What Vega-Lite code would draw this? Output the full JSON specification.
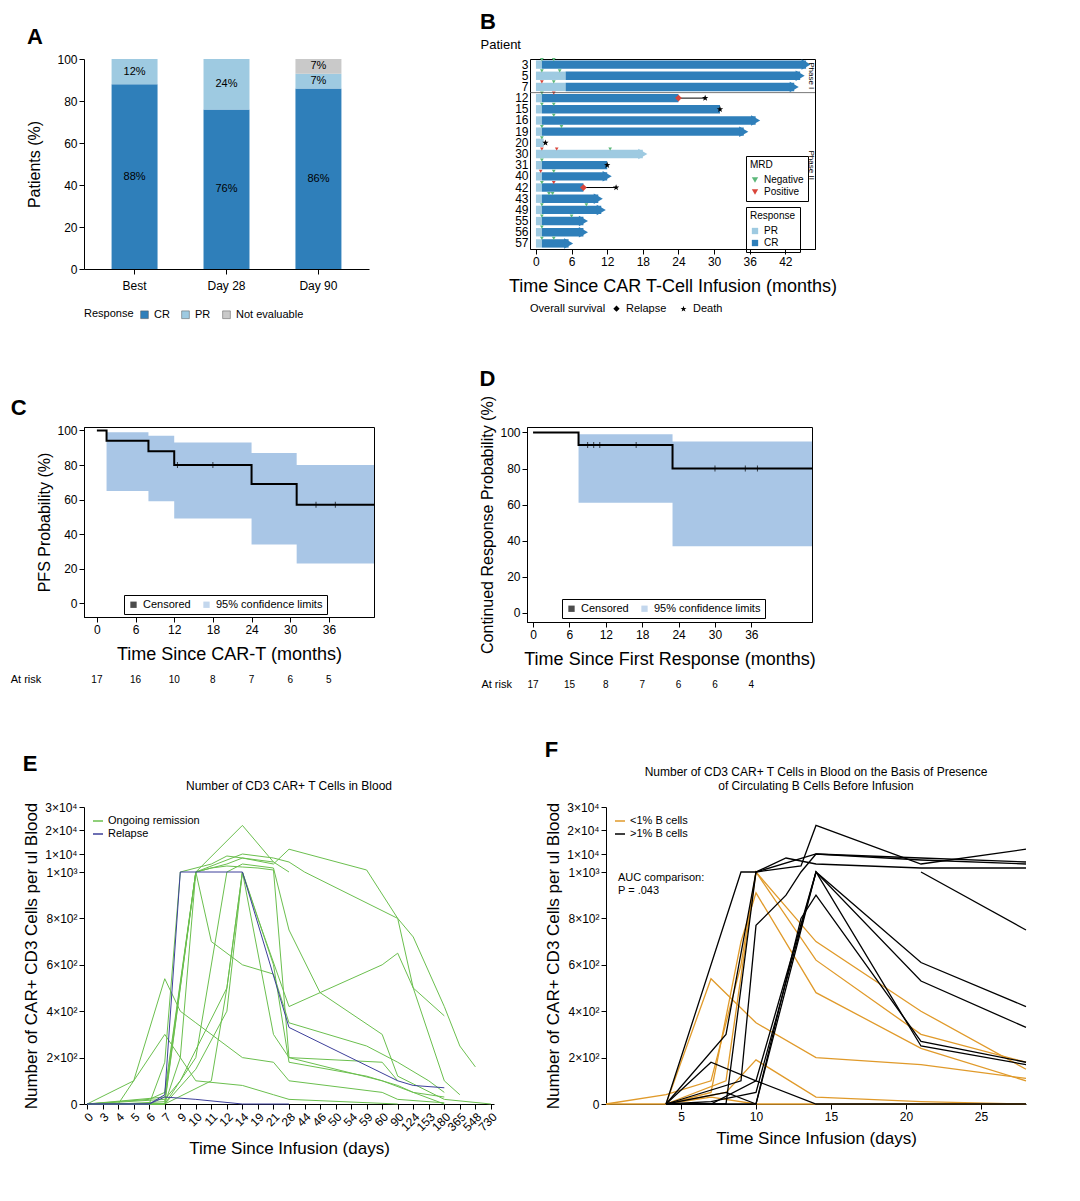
{
  "$schema": "https://vega.github.io/schema/vega-lite/v6.json",
  "background": "white",
  "padding": {"left": 10, "top": 10, "right": 5, "bottom": 5},
  "spacing": 48,
  "resolve": {"scale": {"color": "independent", "fill": "independent", "shape": "independent", "x": "independent", "y": "independent"}, "legend": {"color": "independent", "fill": "independent", "shape": "independent"}},
  "config": {
    "font": "Liberation Sans",
    "view": {"stroke": null},
    "axis": {"grid": false, "labelOverlap": false, "domainColor": "black", "tickColor": "black", "labelColor": "black", "titleColor": "black", "labelFontSize": 12, "titleFontSize": 16, "titleFontWeight": "normal"},
    "legend": {"labelFontSize": 11, "titleFontSize": 11, "titleFontWeight": "normal"},
    "title": {"fontSize": 13, "fontWeight": "normal"},
    "concat": {"spacing": 60}
  },
  "datasets": {
    "resp": [
      {"t": "Best", "r": "CR", "v": 88, "o": 1, "mid": 44, "lab": "88%"},
      {"t": "Best", "r": "PR", "v": 12, "o": 2, "mid": 94, "lab": "12%"},
      {"t": "Day 28", "r": "CR", "v": 76, "o": 1, "mid": 38, "lab": "76%"},
      {"t": "Day 28", "r": "PR", "v": 24, "o": 2, "mid": 88, "lab": "24%"},
      {"t": "Day 90", "r": "CR", "v": 86, "o": 1, "mid": 43, "lab": "86%"},
      {"t": "Day 90", "r": "PR", "v": 7, "o": 2, "mid": 89.5, "lab": "7%"},
      {"t": "Day 90", "r": "Not evaluable", "v": 7, "o": 3, "mid": 96.5, "lab": "7%"}
    ],
    "bars": [
      {"p": "3", "s": 0, "e": 1, "r": "PR"}, {"p": "3", "s": 1, "e": 45.5, "r": "CR"},
      {"p": "5", "s": 0, "e": 5, "r": "PR"}, {"p": "5", "s": 5, "e": 44.5, "r": "CR"},
      {"p": "7", "s": 0, "e": 5, "r": "PR"}, {"p": "7", "s": 5, "e": 43.5, "r": "CR"},
      {"p": "12", "s": 0, "e": 1, "r": "PR"}, {"p": "12", "s": 1, "e": 24, "r": "CR"},
      {"p": "15", "s": 0, "e": 1, "r": "PR"}, {"p": "15", "s": 1, "e": 31, "r": "CR"},
      {"p": "16", "s": 0, "e": 1, "r": "PR"}, {"p": "16", "s": 1, "e": 37, "r": "CR"},
      {"p": "19", "s": 0, "e": 1, "r": "PR"}, {"p": "19", "s": 1, "e": 35, "r": "CR"},
      {"p": "20", "s": 0, "e": 1.3, "r": "PR"},
      {"p": "30", "s": 0, "e": 18, "r": "PR"},
      {"p": "31", "s": 0, "e": 1, "r": "PR"}, {"p": "31", "s": 1, "e": 12, "r": "CR"},
      {"p": "40", "s": 0, "e": 1, "r": "PR"}, {"p": "40", "s": 1, "e": 12, "r": "CR"},
      {"p": "42", "s": 0, "e": 1, "r": "PR"}, {"p": "42", "s": 1, "e": 8, "r": "CR"},
      {"p": "43", "s": 0, "e": 1, "r": "PR"}, {"p": "43", "s": 1, "e": 10.5, "r": "CR"},
      {"p": "49", "s": 0, "e": 1, "r": "PR"}, {"p": "49", "s": 1, "e": 11, "r": "CR"},
      {"p": "55", "s": 0, "e": 1, "r": "PR"}, {"p": "55", "s": 1, "e": 8, "r": "CR"},
      {"p": "56", "s": 0, "e": 1, "r": "PR"}, {"p": "56", "s": 1, "e": 8, "r": "CR"},
      {"p": "57", "s": 0, "e": 1, "r": "PR"}, {"p": "57", "s": 1, "e": 5.5, "r": "CR"}
    ],
    "arrows": [
      {"p": "3", "x": 45.5, "r": "CR"}, {"p": "5", "x": 44.5, "r": "CR"}, {"p": "7", "x": 43.5, "r": "CR"},
      {"p": "16", "x": 37, "r": "CR"}, {"p": "19", "x": 35, "r": "CR"}, {"p": "30", "x": 18, "r": "PR"},
      {"p": "40", "x": 12, "r": "CR"}, {"p": "43", "x": 10.5, "r": "CR"}, {"p": "49", "x": 11, "r": "CR"},
      {"p": "55", "x": 8, "r": "CR"}, {"p": "56", "x": 8, "r": "CR"}, {"p": "57", "x": 5.5, "r": "CR"}
    ],
    "mrd": [
      {"p": "3", "x": 1, "m": "Negative"}, {"p": "3", "x": 3, "m": "Negative"},
      {"p": "5", "x": 1, "m": "Negative"}, {"p": "5", "x": 4, "m": "Negative"},
      {"p": "7", "x": 1, "m": "Positive"}, {"p": "7", "x": 3, "m": "Negative"},
      {"p": "12", "x": 1, "m": "Negative"}, {"p": "12", "x": 3, "m": "Positive"},
      {"p": "15", "x": 1, "m": "Negative"}, {"p": "15", "x": 3, "m": "Negative"},
      {"p": "16", "x": 3, "m": "Negative"},
      {"p": "19", "x": 1, "m": "Negative"}, {"p": "19", "x": 4.3, "m": "Negative"},
      {"p": "20", "x": 1, "m": "Negative"},
      {"p": "30", "x": 1, "m": "Positive"}, {"p": "30", "x": 3.5, "m": "Positive"}, {"p": "30", "x": 12.5, "m": "Negative"},
      {"p": "31", "x": 1, "m": "Negative"},
      {"p": "40", "x": 0.8, "m": "Positive"}, {"p": "40", "x": 3, "m": "Negative"},
      {"p": "42", "x": 1, "m": "Negative"}, {"p": "42", "x": 3, "m": "Positive"},
      {"p": "43", "x": 2.2, "m": "Negative"}, {"p": "43", "x": 2.8, "m": "Negative"},
      {"p": "49", "x": 1, "m": "Negative"}, {"p": "49", "x": 8.5, "m": "Negative"},
      {"p": "55", "x": 1, "m": "Negative"}, {"p": "55", "x": 6, "m": "Negative"},
      {"p": "56", "x": 1, "m": "Negative"},
      {"p": "57", "x": 1, "m": "Negative"}, {"p": "57", "x": 3, "m": "Negative"}
    ],
    "surv": [
      {"p": "12", "s": 24, "e": 28.5}, {"p": "42", "s": 8, "e": 13.5}
    ],
    "events": [
      {"p": "12", "x": 24, "ev": "Relapse"}, {"p": "12", "x": 28.5, "ev": "Death"},
      {"p": "15", "x": 31, "ev": "Death"}, {"p": "20", "x": 1.6, "ev": "Death"},
      {"p": "31", "x": 12, "ev": "Death"}, {"p": "42", "x": 8, "ev": "Relapse"},
      {"p": "42", "x": 13.5, "ev": "Death"}
    ],
    "phase": [
      {"p": "5", "x": 46.3, "lab": "Phase I"}, {"p": "31", "x": 46.3, "lab": "Phase II"}
    ],
    "kmC": [
      {"t": 0, "s": 100}, {"t": 1.5, "s": 94}, {"t": 8, "s": 88}, {"t": 12, "s": 80},
      {"t": 24, "s": 69}, {"t": 31, "s": 57}, {"t": 43, "s": 57}
    ],
    "bandC": [
      {"t": 1.5, "lo": 65, "hi": 99, "k": "95% confidence limits"}, {"t": 8, "lo": 59, "hi": 97, "k": "95% confidence limits"},
      {"t": 12, "lo": 49, "hi": 93, "k": "95% confidence limits"}, {"t": 24, "lo": 34, "hi": 87, "k": "95% confidence limits"},
      {"t": 31, "lo": 23, "hi": 80, "k": "95% confidence limits"}, {"t": 43, "lo": 23, "hi": 80, "k": "95% confidence limits"}
    ],
    "censC": [
      {"t": 12.5, "s": 80, "k": "Censored"}, {"t": 18, "s": 80, "k": "Censored"},
      {"t": 34, "s": 57, "k": "Censored"}, {"t": 37, "s": 57, "k": "Censored"}
    ],
    "riskC": [
      {"t": 0, "n": "17"}, {"t": 6, "n": "16"}, {"t": 12, "n": "10"}, {"t": 18, "n": "8"},
      {"t": 24, "n": "7"}, {"t": 30, "n": "6"}, {"t": 36, "n": "5"}
    ],
    "kmD": [
      {"t": 0, "s": 100}, {"t": 7.5, "s": 93}, {"t": 23, "s": 80}, {"t": 46, "s": 80}
    ],
    "bandD": [
      {"t": 7.5, "lo": 61, "hi": 99, "k": "95% confidence limits"}, {"t": 23, "lo": 37, "hi": 95, "k": "95% confidence limits"},
      {"t": 46, "lo": 37, "hi": 95, "k": "95% confidence limits"}
    ],
    "censD": [
      {"t": 9, "s": 93, "k": "Censored"}, {"t": 10, "s": 93, "k": "Censored"}, {"t": 11, "s": 93, "k": "Censored"},
      {"t": 17, "s": 93, "k": "Censored"}, {"t": 30, "s": 80, "k": "Censored"}, {"t": 35, "s": 80, "k": "Censored"},
      {"t": 37, "s": 80, "k": "Censored"}
    ],
    "riskD": [
      {"t": 0, "n": "17"}, {"t": 6, "n": "15"}, {"t": 12, "n": "8"}, {"t": 18, "n": "7"},
      {"t": 24, "n": "6"}, {"t": 30, "n": "6"}, {"t": 36, "n": "4"}
    ],
    "cellsE": [
      {"id": "g1", "g": "Ongoing remission", "d": 0, "v": 0}, {"id": "g1", "g": "Ongoing remission", "d": 4, "v": 0}, {"id": "g1", "g": "Ongoing remission", "d": 7, "v": 10}, {"id": "g1", "g": "Ongoing remission", "d": 10, "v": 1000}, {"id": "g1", "g": "Ongoing remission", "d": 14, "v": 22000}, {"id": "g1", "g": "Ongoing remission", "d": 21, "v": 6000}, {"id": "g1", "g": "Ongoing remission", "d": 28, "v": 1000},
      {"id": "g2", "g": "Ongoing remission", "d": 0, "v": 0}, {"id": "g2", "g": "Ongoing remission", "d": 7, "v": 0}, {"id": "g2", "g": "Ongoing remission", "d": 9, "v": 200}, {"id": "g2", "g": "Ongoing remission", "d": 10, "v": 1000}, {"id": "g2", "g": "Ongoing remission", "d": 12, "v": 5000}, {"id": "g2", "g": "Ongoing remission", "d": 14, "v": 8000}, {"id": "g2", "g": "Ongoing remission", "d": 21, "v": 5000}, {"id": "g2", "g": "Ongoing remission", "d": 28, "v": 12000}, {"id": "g2", "g": "Ongoing remission", "d": 59, "v": 2000}, {"id": "g2", "g": "Ongoing remission", "d": 90, "v": 800}, {"id": "g2", "g": "Ongoing remission", "d": 124, "v": 720}, {"id": "g2", "g": "Ongoing remission", "d": 180, "v": 420}, {"id": "g2", "g": "Ongoing remission", "d": 365, "v": 250}, {"id": "g2", "g": "Ongoing remission", "d": 548, "v": 160},
      {"id": "g3", "g": "Ongoing remission", "d": 0, "v": 0}, {"id": "g3", "g": "Ongoing remission", "d": 5, "v": 100}, {"id": "g3", "g": "Ongoing remission", "d": 7, "v": 540}, {"id": "g3", "g": "Ongoing remission", "d": 9, "v": 400}, {"id": "g3", "g": "Ongoing remission", "d": 10, "v": 350}, {"id": "g3", "g": "Ongoing remission", "d": 14, "v": 200}, {"id": "g3", "g": "Ongoing remission", "d": 21, "v": 180}, {"id": "g3", "g": "Ongoing remission", "d": 28, "v": 100}, {"id": "g3", "g": "Ongoing remission", "d": 60, "v": 50}, {"id": "g3", "g": "Ongoing remission", "d": 90, "v": 20}, {"id": "g3", "g": "Ongoing remission", "d": 180, "v": 5},
      {"id": "g4", "g": "Ongoing remission", "d": 0, "v": 0}, {"id": "g4", "g": "Ongoing remission", "d": 6, "v": 20}, {"id": "g4", "g": "Ongoing remission", "d": 7, "v": 50}, {"id": "g4", "g": "Ongoing remission", "d": 10, "v": 1000}, {"id": "g4", "g": "Ongoing remission", "d": 11, "v": 700}, {"id": "g4", "g": "Ongoing remission", "d": 14, "v": 600}, {"id": "g4", "g": "Ongoing remission", "d": 21, "v": 560}, {"id": "g4", "g": "Ongoing remission", "d": 28, "v": 350}, {"id": "g4", "g": "Ongoing remission", "d": 59, "v": 250}, {"id": "g4", "g": "Ongoing remission", "d": 90, "v": 180}, {"id": "g4", "g": "Ongoing remission", "d": 153, "v": 100}, {"id": "g4", "g": "Ongoing remission", "d": 180, "v": 50},
      {"id": "g5", "g": "Ongoing remission", "d": 0, "v": 0}, {"id": "g5", "g": "Ongoing remission", "d": 7, "v": 20}, {"id": "g5", "g": "Ongoing remission", "d": 9, "v": 100}, {"id": "g5", "g": "Ongoing remission", "d": 12, "v": 500}, {"id": "g5", "g": "Ongoing remission", "d": 14, "v": 1000}, {"id": "g5", "g": "Ongoing remission", "d": 19, "v": 800}, {"id": "g5", "g": "Ongoing remission", "d": 28, "v": 420}, {"id": "g5", "g": "Ongoing remission", "d": 60, "v": 600}, {"id": "g5", "g": "Ongoing remission", "d": 90, "v": 650}, {"id": "g5", "g": "Ongoing remission", "d": 124, "v": 500}, {"id": "g5", "g": "Ongoing remission", "d": 180, "v": 380},
      {"id": "g6", "g": "Ongoing remission", "d": 0, "v": 0}, {"id": "g6", "g": "Ongoing remission", "d": 7, "v": 0}, {"id": "g6", "g": "Ongoing remission", "d": 10, "v": 200}, {"id": "g6", "g": "Ongoing remission", "d": 12, "v": 1000}, {"id": "g6", "g": "Ongoing remission", "d": 14, "v": 5000}, {"id": "g6", "g": "Ongoing remission", "d": 21, "v": 3000}, {"id": "g6", "g": "Ongoing remission", "d": 28, "v": 750}, {"id": "g6", "g": "Ongoing remission", "d": 46, "v": 480}, {"id": "g6", "g": "Ongoing remission", "d": 60, "v": 300}, {"id": "g6", "g": "Ongoing remission", "d": 90, "v": 120}, {"id": "g6", "g": "Ongoing remission", "d": 180, "v": 20}, {"id": "g6", "g": "Ongoing remission", "d": 730, "v": 0},
      {"id": "g7", "g": "Ongoing remission", "d": 0, "v": 0}, {"id": "g7", "g": "Ongoing remission", "d": 7, "v": 30}, {"id": "g7", "g": "Ongoing remission", "d": 10, "v": 1000}, {"id": "g7", "g": "Ongoing remission", "d": 11, "v": 3000}, {"id": "g7", "g": "Ongoing remission", "d": 12, "v": 4000}, {"id": "g7", "g": "Ongoing remission", "d": 14, "v": 3500}, {"id": "g7", "g": "Ongoing remission", "d": 19, "v": 3000}, {"id": "g7", "g": "Ongoing remission", "d": 21, "v": 2000}, {"id": "g7", "g": "Ongoing remission", "d": 28, "v": 200}, {"id": "g7", "g": "Ongoing remission", "d": 60, "v": 180}, {"id": "g7", "g": "Ongoing remission", "d": 90, "v": 100},
      {"id": "g8", "g": "Ongoing remission", "d": 0, "v": 0}, {"id": "g8", "g": "Ongoing remission", "d": 4, "v": 0}, {"id": "g8", "g": "Ongoing remission", "d": 7, "v": 300}, {"id": "g8", "g": "Ongoing remission", "d": 10, "v": 100}, {"id": "g8", "g": "Ongoing remission", "d": 14, "v": 80}, {"id": "g8", "g": "Ongoing remission", "d": 21, "v": 40}, {"id": "g8", "g": "Ongoing remission", "d": 28, "v": 20}, {"id": "g8", "g": "Ongoing remission", "d": 90, "v": 0},
      {"id": "g9", "g": "Ongoing remission", "d": 0, "v": 0}, {"id": "g9", "g": "Ongoing remission", "d": 7, "v": 0}, {"id": "g9", "g": "Ongoing remission", "d": 10, "v": 150}, {"id": "g9", "g": "Ongoing remission", "d": 12, "v": 400}, {"id": "g9", "g": "Ongoing remission", "d": 14, "v": 1000}, {"id": "g9", "g": "Ongoing remission", "d": 21, "v": 600}, {"id": "g9", "g": "Ongoing remission", "d": 28, "v": 180}, {"id": "g9", "g": "Ongoing remission", "d": 59, "v": 120}, {"id": "g9", "g": "Ongoing remission", "d": 90, "v": 80}, {"id": "g9", "g": "Ongoing remission", "d": 124, "v": 50}, {"id": "g9", "g": "Ongoing remission", "d": 180, "v": 0},
      {"id": "g10", "g": "Ongoing remission", "d": 0, "v": 0}, {"id": "g10", "g": "Ongoing remission", "d": 7, "v": 0}, {"id": "g10", "g": "Ongoing remission", "d": 10, "v": 1000}, {"id": "g10", "g": "Ongoing remission", "d": 14, "v": 10000}, {"id": "g10", "g": "Ongoing remission", "d": 21, "v": 8000}, {"id": "g10", "g": "Ongoing remission", "d": 28, "v": 6000}, {"id": "g10", "g": "Ongoing remission", "d": 44, "v": 1000}, {"id": "g10", "g": "Ongoing remission", "d": 90, "v": 800}, {"id": "g10", "g": "Ongoing remission", "d": 124, "v": 500}, {"id": "g10", "g": "Ongoing remission", "d": 180, "v": 100}, {"id": "g10", "g": "Ongoing remission", "d": 365, "v": 40},
      {"id": "g11", "g": "Ongoing remission", "d": 0, "v": 0}, {"id": "g11", "g": "Ongoing remission", "d": 7, "v": 0}, {"id": "g11", "g": "Ongoing remission", "d": 11, "v": 100}, {"id": "g11", "g": "Ongoing remission", "d": 12, "v": 500}, {"id": "g11", "g": "Ongoing remission", "d": 14, "v": 1000}, {"id": "g11", "g": "Ongoing remission", "d": 21, "v": 300}, {"id": "g11", "g": "Ongoing remission", "d": 28, "v": 200}, {"id": "g11", "g": "Ongoing remission", "d": 60, "v": 100}, {"id": "g11", "g": "Ongoing remission", "d": 124, "v": 50}, {"id": "g11", "g": "Ongoing remission", "d": 180, "v": 30},
      {"id": "g12", "g": "Ongoing remission", "d": 0, "v": 0}, {"id": "g12", "g": "Ongoing remission", "d": 6, "v": 0}, {"id": "g12", "g": "Ongoing remission", "d": 7, "v": 180}, {"id": "g12", "g": "Ongoing remission", "d": 9, "v": 1000}, {"id": "g12", "g": "Ongoing remission", "d": 11, "v": 5000}, {"id": "g12", "g": "Ongoing remission", "d": 12, "v": 9000}, {"id": "g12", "g": "Ongoing remission", "d": 21, "v": 6000},
      {"id": "b1", "g": "Relapse", "d": 0, "v": 0}, {"id": "b1", "g": "Relapse", "d": 6, "v": 0}, {"id": "b1", "g": "Relapse", "d": 7, "v": 40}, {"id": "b1", "g": "Relapse", "d": 9, "v": 1000}, {"id": "b1", "g": "Relapse", "d": 10, "v": 1000}, {"id": "b1", "g": "Relapse", "d": 14, "v": 1000}, {"id": "b1", "g": "Relapse", "d": 28, "v": 330}, {"id": "b1", "g": "Relapse", "d": 90, "v": 100}, {"id": "b1", "g": "Relapse", "d": 124, "v": 80}, {"id": "b1", "g": "Relapse", "d": 180, "v": 70},
      {"id": "b2", "g": "Relapse", "d": 0, "v": 0}, {"id": "b2", "g": "Relapse", "d": 6, "v": 0}, {"id": "b2", "g": "Relapse", "d": 7, "v": 30}, {"id": "b2", "g": "Relapse", "d": 10, "v": 20}, {"id": "b2", "g": "Relapse", "d": 14, "v": 0}, {"id": "b2", "g": "Relapse", "d": 28, "v": 0}
    ],
    "cellsF": [
      {"id": "o1", "g": "<1% B cells", "d": 0, "v": 0}, {"id": "o1", "g": "<1% B cells", "d": 4, "v": 40}, {"id": "o1", "g": "<1% B cells", "d": 7, "v": 100}, {"id": "o1", "g": "<1% B cells", "d": 9, "v": 600}, {"id": "o1", "g": "<1% B cells", "d": 10, "v": 1000}, {"id": "o1", "g": "<1% B cells", "d": 14, "v": 620}, {"id": "o1", "g": "<1% B cells", "d": 21, "v": 300}, {"id": "o1", "g": "<1% B cells", "d": 28, "v": 180},
      {"id": "o2", "g": "<1% B cells", "d": 4, "v": 0}, {"id": "o2", "g": "<1% B cells", "d": 7, "v": 540}, {"id": "o2", "g": "<1% B cells", "d": 10, "v": 350}, {"id": "o2", "g": "<1% B cells", "d": 14, "v": 200}, {"id": "o2", "g": "<1% B cells", "d": 21, "v": 170}, {"id": "o2", "g": "<1% B cells", "d": 28, "v": 110},
      {"id": "o3", "g": "<1% B cells", "d": 4, "v": 0}, {"id": "o3", "g": "<1% B cells", "d": 7, "v": 50}, {"id": "o3", "g": "<1% B cells", "d": 9, "v": 700}, {"id": "o3", "g": "<1% B cells", "d": 10, "v": 910}, {"id": "o3", "g": "<1% B cells", "d": 14, "v": 480}, {"id": "o3", "g": "<1% B cells", "d": 21, "v": 240}, {"id": "o3", "g": "<1% B cells", "d": 28, "v": 100},
      {"id": "o4", "g": "<1% B cells", "d": 4, "v": 0}, {"id": "o4", "g": "<1% B cells", "d": 8, "v": 50}, {"id": "o4", "g": "<1% B cells", "d": 10, "v": 190}, {"id": "o4", "g": "<1% B cells", "d": 14, "v": 30}, {"id": "o4", "g": "<1% B cells", "d": 21, "v": 10}, {"id": "o4", "g": "<1% B cells", "d": 28, "v": 0},
      {"id": "o5", "g": "<1% B cells", "d": 4, "v": 0}, {"id": "o5", "g": "<1% B cells", "d": 8, "v": 100}, {"id": "o5", "g": "<1% B cells", "d": 10, "v": 1000}, {"id": "o5", "g": "<1% B cells", "d": 14, "v": 700}, {"id": "o5", "g": "<1% B cells", "d": 21, "v": 400}, {"id": "o5", "g": "<1% B cells", "d": 28, "v": 150},
      {"id": "o6", "g": "<1% B cells", "d": 0, "v": 0}, {"id": "o6", "g": "<1% B cells", "d": 4, "v": 0}, {"id": "o6", "g": "<1% B cells", "d": 7, "v": 30}, {"id": "o6", "g": "<1% B cells", "d": 10, "v": 0}, {"id": "o6", "g": "<1% B cells", "d": 28, "v": 0},
      {"id": "k1", "g": ">1% B cells", "d": 4, "v": 0}, {"id": "k1", "g": ">1% B cells", "d": 8, "v": 300}, {"id": "k1", "g": ">1% B cells", "d": 10, "v": 1000}, {"id": "k1", "g": ">1% B cells", "d": 13, "v": 4000}, {"id": "k1", "g": ">1% B cells", "d": 14, "v": 22000}, {"id": "k1", "g": ">1% B cells", "d": 21, "v": 5000}, {"id": "k1", "g": ">1% B cells", "d": 28, "v": 12000},
      {"id": "k2", "g": ">1% B cells", "d": 4, "v": 0}, {"id": "k2", "g": ">1% B cells", "d": 9, "v": 100}, {"id": "k2", "g": ">1% B cells", "d": 10, "v": 770}, {"id": "k2", "g": ">1% B cells", "d": 12, "v": 900}, {"id": "k2", "g": ">1% B cells", "d": 13, "v": 1000}, {"id": "k2", "g": ">1% B cells", "d": 14, "v": 10000}, {"id": "k2", "g": ">1% B cells", "d": 21, "v": 7000}, {"id": "k2", "g": ">1% B cells", "d": 28, "v": 5000},
      {"id": "k3", "g": ">1% B cells", "d": 4, "v": 0}, {"id": "k3", "g": ">1% B cells", "d": 7, "v": 0}, {"id": "k3", "g": ">1% B cells", "d": 10, "v": 100}, {"id": "k3", "g": ">1% B cells", "d": 14, "v": 1000}, {"id": "k3", "g": ">1% B cells", "d": 21, "v": 610}, {"id": "k3", "g": ">1% B cells", "d": 28, "v": 420},
      {"id": "k4", "g": ">1% B cells", "d": 4, "v": 0}, {"id": "k4", "g": ">1% B cells", "d": 8, "v": 0}, {"id": "k4", "g": ">1% B cells", "d": 10, "v": 1000}, {"id": "k4", "g": ">1% B cells", "d": 12, "v": 8000}, {"id": "k4", "g": ">1% B cells", "d": 14, "v": 5000}, {"id": "k4", "g": ">1% B cells", "d": 21, "v": 3000}, {"id": "k4", "g": ">1% B cells", "d": 28, "v": 3000},
      {"id": "k5", "g": ">1% B cells", "d": 4, "v": 0}, {"id": "k5", "g": ">1% B cells", "d": 10, "v": 0}, {"id": "k5", "g": ">1% B cells", "d": 14, "v": 1000}, {"id": "k5", "g": ">1% B cells", "d": 21, "v": 530}, {"id": "k5", "g": ">1% B cells", "d": 28, "v": 330},
      {"id": "k6", "g": ">1% B cells", "d": 4, "v": 0}, {"id": "k6", "g": ">1% B cells", "d": 7, "v": 180}, {"id": "k6", "g": ">1% B cells", "d": 10, "v": 100}, {"id": "k6", "g": ">1% B cells", "d": 14, "v": 0}, {"id": "k6", "g": ">1% B cells", "d": 28, "v": 0},
      {"id": "k7", "g": ">1% B cells", "d": 4, "v": 0}, {"id": "k7", "g": ">1% B cells", "d": 9, "v": 1000}, {"id": "k7", "g": ">1% B cells", "d": 10, "v": 1000}, {"id": "k7", "g": ">1% B cells", "d": 14, "v": 10000}, {"id": "k7", "g": ">1% B cells", "d": 21, "v": 8000}, {"id": "k7", "g": ">1% B cells", "d": 28, "v": 6000},
      {"id": "k8", "g": ">1% B cells", "d": 21, "v": 1000}, {"id": "k8", "g": ">1% B cells", "d": 28, "v": 750},
      {"id": "k9", "g": ">1% B cells", "d": 4, "v": 0}, {"id": "k9", "g": ">1% B cells", "d": 8, "v": 50}, {"id": "k9", "g": ">1% B cells", "d": 10, "v": 0}, {"id": "k9", "g": ">1% B cells", "d": 13, "v": 800}, {"id": "k9", "g": ">1% B cells", "d": 14, "v": 900}, {"id": "k9", "g": ">1% B cells", "d": 21, "v": 270}, {"id": "k9", "g": ">1% B cells", "d": 28, "v": 180},
      {"id": "k10", "g": ">1% B cells", "d": 4, "v": 0}, {"id": "k10", "g": ">1% B cells", "d": 7, "v": 10}, {"id": "k10", "g": ">1% B cells", "d": 10, "v": 50}, {"id": "k10", "g": ">1% B cells", "d": 14, "v": 1000}, {"id": "k10", "g": ">1% B cells", "d": 21, "v": 250}, {"id": "k10", "g": ">1% B cells", "d": 28, "v": 170}
    ]
  },
  "vconcat": [
    {
      "resolve": {"scale": {"color": "independent", "fill": "independent", "shape": "independent", "x": "independent", "y": "independent"}, "legend": {"color": "independent", "fill": "independent", "shape": "independent"}},
      "spacing": 110,
      "hconcat": [
        {
          "title": {"text": "A", "anchor": "start", "frame": "bounds", "fontSize": 22, "fontWeight": "bold"},
          "width": 285, "height": 210,
          "data": {"name": "resp"},
          "layer": [
            {
              "mark": {"type": "bar"},
              "encoding": {
                "x": {"field": "t", "type": "nominal", "title": null, "scale": {"paddingInner": 0.5, "paddingOuter": 0.3}, "axis": {"labelAngle": 0, "labelPadding": 6}},
                "y": {"field": "v", "type": "quantitative", "title": "Patients (%)", "scale": {"domain": [0, 100]}, "axis": {"values": [0, 20, 40, 60, 80, 100], "titlePadding": 14}},
                "order": {"field": "o"},
                "color": {"field": "r", "type": "nominal", "title": "Response", "scale": {"domain": ["CR", "PR", "Not evaluable"], "range": ["#2f7fba", "#9ecae1", "#c9c9c9"]}, "legend": {"orient": "bottom", "direction": "horizontal", "titleOrient": "left", "symbolType": "square", "symbolSize": 60, "symbolStrokeColor": "#555", "symbolStrokeWidth": 0.5}}
              }
            },
            {
              "mark": {"type": "text", "fontSize": 11},
              "encoding": {
                "x": {"field": "t", "type": "nominal"},
                "y": {"field": "mid", "type": "quantitative", "axis": {"values": [0, 20, 40, 60, 80, 100], "titlePadding": 14}},
                "text": {"field": "lab"}
              }
            }
          ]
        },
        {
          "title": {"text": "B", "anchor": "start", "frame": "bounds", "fontSize": 22, "fontWeight": "bold"},
          "width": 285, "height": 190,
          "view": {"stroke": "black"},
          "encoding": {
            "y": {"field": "p", "type": "nominal", "sort": ["3", "5", "7", "12", "15", "16", "19", "20", "30", "31", "40", "42", "43", "49", "55", "56", "57"], "scale": {"paddingInner": 0.25}, "title": "Patient", "axis": {"ticks": false, "domain": false, "titleAngle": 0, "titleAlign": "left", "titleX": -50, "titleY": -8, "titleFontSize": 13, "labelFontSize": 12, "labelPadding": 2}}
          },
          "layer": [
            {
              "data": {"name": "bars"},
              "mark": {"type": "bar"},
              "encoding": {
                "x": {"field": "s", "type": "quantitative", "scale": {"domain": [-1, 47], "nice": false}, "title": "Time Since CAR T-Cell Infusion (months)", "axis": {"values": [0, 6, 12, 18, 24, 30, 36, 42], "titleFontSize": 18, "titlePadding": 10}},
                "x2": {"field": "e"},
                "color": {"field": "r", "type": "nominal", "title": "Response", "scale": {"domain": ["PR", "CR"], "range": ["#9ecae1", "#2f7fba"]}, "legend": {"orient": "none", "legendX": 216, "legendY": 148, "symbolType": "square", "symbolSize": 40, "strokeColor": "black", "padding": 4, "labelFontSize": 10, "titleFontSize": 10}}
              }
            },
            {
              "data": {"name": "arrows"},
              "mark": {"type": "point", "shape": "triangle-right", "filled": true, "size": 110, "opacity": 1},
              "encoding": {
                "x": {"field": "x", "type": "quantitative"},
                "color": {"field": "r", "type": "nominal", "legend": null}
              }
            },
            {
              "data": {"name": "surv"},
              "mark": {"type": "rule", "color": "black", "strokeWidth": 1},
              "encoding": {
                "x": {"field": "s", "type": "quantitative"},
                "x2": {"field": "e"}
              }
            },
            {
              "data": {"name": "mrd"},
              "mark": {"type": "point", "shape": "triangle-down", "filled": true, "size": 14, "yOffset": -5, "opacity": 1},
              "encoding": {
                "x": {"field": "x", "type": "quantitative"},
                "fill": {"field": "m", "type": "nominal", "title": "MRD", "scale": {"domain": ["Negative", "Positive"], "range": ["#5cb87a", "#d9453a"]}, "legend": {"orient": "none", "legendX": 216, "legendY": 97, "symbolType": "triangle-down", "symbolSize": 40, "strokeColor": "black", "padding": 4, "labelFontSize": 10, "titleFontSize": 10}}
              }
            },
            {
              "data": {"name": "events"},
              "mark": {"type": "point", "filled": true, "size": 45, "opacity": 1},
              "encoding": {
                "x": {"field": "x", "type": "quantitative"},
                "shape": {"field": "ev", "type": "nominal", "title": "Overall survival", "scale": {"domain": ["Relapse", "Death"], "range": ["diamond", "M0,-1L0.24,-0.32L0.95,-0.31L0.38,0.12L0.59,0.81L0,0.4L-0.59,0.81L-0.38,0.12L-0.95,-0.31L-0.24,-0.32Z"]}, "legend": {"orient": "bottom", "direction": "horizontal", "titleOrient": "left", "symbolFillColor": "black", "symbolSize": 40, "offset": 8}},
                "color": {"value": "black"},
                "fill": {"condition": {"test": "datum.ev == 'Relapse'", "value": "#d9453a"}, "value": "black"}
              }
            },
            {
              "data": {"values": [{"p": "12"}]},
              "mark": {"type": "rule", "color": "#555", "strokeWidth": 0.8, "yOffset": -5.5},
              "encoding": {"y": {"field": "p", "type": "nominal"}}
            },
            {
              "data": {"name": "phase"},
              "mark": {"type": "text", "angle": 90, "fontSize": 8},
              "encoding": {"x": {"field": "x", "type": "quantitative"}, "text": {"field": "lab"}}
            }
          ],
          "resolve": {"scale": {"fill": "independent"}}
        }
      ]
    },
    {
      "resolve": {"scale": {"color": "independent", "x": "independent", "y": "independent"}, "legend": {"color": "independent"}},
      "spacing": 100,
      "hconcat": [
        {
          "title": {"text": "C", "anchor": "start", "frame": "bounds", "fontSize": 22, "fontWeight": "bold"},
          "spacing": 10,
          "resolve": {"scale": {"x": "independent", "y": "independent", "color": "independent"}},
          "vconcat": [
            {
              "width": 290, "height": 190,
              "view": {"stroke": "black"},
              "layer": [
                {
                  "data": {"name": "bandC"},
                  "mark": {"type": "area", "interpolate": "step-after"},
                  "encoding": {
                    "x": {"field": "t", "type": "quantitative", "scale": {"domain": [-2, 43], "nice": false}, "title": "Time Since CAR-T (months)", "axis": {"values": [0, 6, 12, 18, 24, 30, 36], "titleFontSize": 18, "titlePadding": 10}},
                    "y": {"field": "lo", "type": "quantitative", "scale": {"domain": [-8, 102], "nice": false}, "title": "PFS Probability (%)", "axis": {"values": [0, 20, 40, 60, 80, 100]}},
                    "y2": {"field": "hi"},
                    "color": {"field": "k", "type": "nominal", "title": null, "scale": {"domain": ["Censored", "95% confidence limits"], "range": ["black", "#a9c6e6"]}, "legend": {"orient": "none", "legendX": 40, "legendY": 168, "direction": "horizontal", "symbolType": "square", "symbolSize": 40, "strokeColor": "black", "padding": 4, "labelFontSize": 11}}
                  }
                },
                {
                  "data": {"name": "kmC"},
                  "mark": {"type": "line", "interpolate": "step-after", "color": "black", "strokeWidth": 2},
                  "encoding": {"x": {"field": "t", "type": "quantitative", "axis": {"values": [0, 6, 12, 18, 24, 30, 36]}}, "y": {"field": "s", "type": "quantitative", "axis": {"values": [0, 20, 40, 60, 80, 100]}}}
                },
                {
                  "data": {"name": "censC"},
                  "mark": {"type": "tick", "orient": "vertical", "size": 6, "thickness": 1},
                  "encoding": {"x": {"field": "t", "type": "quantitative", "axis": {"values": [0, 6, 12, 18, 24, 30, 36]}}, "y": {"field": "s", "type": "quantitative", "axis": {"values": [0, 20, 40, 60, 80, 100]}}, "color": {"field": "k", "type": "nominal"}}
                }
              ]
            },
            {
              "width": 290, "height": 12,
              "layer": [
                {
                  "data": {"name": "riskC"},
                  "mark": {"type": "text", "fontSize": 10},
                  "encoding": {"x": {"field": "t", "type": "quantitative", "scale": {"domain": [-2, 43], "nice": false}, "axis": null}, "text": {"field": "n"}}
                },
                {
                  "data": {"values": [{"t": -11, "n": "At risk"}]},
                  "mark": {"type": "text", "fontSize": 11},
                  "encoding": {"x": {"field": "t", "type": "quantitative", "axis": null}, "text": {"field": "n"}}
                }
              ]
            }
          ]
        },
        {
          "title": {"text": "D", "anchor": "start", "frame": "bounds", "fontSize": 22, "fontWeight": "bold"},
          "spacing": 10,
          "resolve": {"scale": {"x": "independent", "y": "independent", "color": "independent"}},
          "vconcat": [
            {
              "width": 285, "height": 195,
              "view": {"stroke": "black"},
              "layer": [
                {
                  "data": {"name": "bandD"},
                  "mark": {"type": "area", "interpolate": "step-after"},
                  "encoding": {
                    "x": {"field": "t", "type": "quantitative", "scale": {"domain": [-1, 46], "nice": false}, "title": "Time Since First Response (months)", "axis": {"values": [0, 6, 12, 18, 24, 30, 36], "titleFontSize": 18, "titlePadding": 10}},
                    "y": {"field": "lo", "type": "quantitative", "scale": {"domain": [-5, 103], "nice": false}, "title": "Continued Response Probability (%)", "axis": {"values": [0, 20, 40, 60, 80, 100]}},
                    "y2": {"field": "hi"},
                    "color": {"field": "k", "type": "nominal", "title": null, "scale": {"domain": ["Censored", "95% confidence limits"], "range": ["black", "#a9c6e6"]}, "legend": {"orient": "none", "legendX": 35, "legendY": 172, "direction": "horizontal", "symbolType": "square", "symbolSize": 40, "strokeColor": "black", "padding": 4, "labelFontSize": 11}}
                  }
                },
                {
                  "data": {"name": "kmD"},
                  "mark": {"type": "line", "interpolate": "step-after", "color": "black", "strokeWidth": 2},
                  "encoding": {"x": {"field": "t", "type": "quantitative", "axis": {"values": [0, 6, 12, 18, 24, 30, 36]}}, "y": {"field": "s", "type": "quantitative", "axis": {"values": [0, 20, 40, 60, 80, 100]}}}
                },
                {
                  "data": {"name": "censD"},
                  "mark": {"type": "tick", "orient": "vertical", "size": 6, "thickness": 1},
                  "encoding": {"x": {"field": "t", "type": "quantitative", "axis": {"values": [0, 6, 12, 18, 24, 30, 36]}}, "y": {"field": "s", "type": "quantitative", "axis": {"values": [0, 20, 40, 60, 80, 100]}}, "color": {"field": "k", "type": "nominal"}}
                }
              ]
            },
            {
              "width": 285, "height": 12,
              "layer": [
                {
                  "data": {"name": "riskD"},
                  "mark": {"type": "text", "fontSize": 10},
                  "encoding": {"x": {"field": "t", "type": "quantitative", "scale": {"domain": [-1, 46], "nice": false}, "axis": null}, "text": {"field": "n"}}
                },
                {
                  "data": {"values": [{"t": -6, "n": "At risk"}]},
                  "mark": {"type": "text", "fontSize": 11},
                  "encoding": {"x": {"field": "t", "type": "quantitative", "axis": null}, "text": {"field": "n"}}
                }
              ]
            }
          ]
        }
      ]
    },
    {
      "resolve": {"scale": {"color": "independent", "x": "independent", "y": "independent"}, "legend": {"color": "independent"}},
      "spacing": 45,
      "hconcat": [
        {
          "title": {"text": "E", "anchor": "start", "frame": "bounds", "fontSize": 22, "fontWeight": "bold"},
          "vconcat": [
            {
              "title": {"text": "Number of CD3 CAR+ T Cells in Blood", "fontSize": 12, "offset": 8},
              "width": 410, "height": 297,
              "data": {"name": "cellsE"},
              "mark": {"type": "line", "strokeWidth": 1},
              "encoding": {
                "x": {"field": "d", "type": "ordinal", "scale": {"type": "point", "domain": [0, 3, 4, 5, 6, 7, 9, 10, 11, 12, 14, 19, 21, 28, 44, 46, 50, 54, 59, 60, 90, 124, 153, 180, 365, 548, 730], "padding": 0.2}, "title": "Time Since Infusion (days)", "axis": {"labelAngle": -45, "titleFontSize": 17, "titlePadding": 8}},
                "y": {"field": "v", "type": "quantitative", "scale": {"domain": [0, 1000, 10000, 20000, 30000], "range": [297, 65, 47, 23, 0]}, "title": "Number of CAR+ CD3 Cells per ul Blood", "axis": {"values": [0, 200, 400, 600, 800, 1000, 10000, 20000, 30000], "labelExpr": "datum.value == 0 ? '0' : datum.value == 200 ? '2×10²' : datum.value == 400 ? '4×10²' : datum.value == 600 ? '6×10²' : datum.value == 800 ? '8×10²' : datum.value == 1000 ? '1×10³' : datum.value == 10000 ? '1×10⁴' : datum.value == 20000 ? '2×10⁴' : '3×10⁴'", "titleFontSize": 17}},
                "detail": {"field": "id"},
                "color": {"field": "g", "type": "nominal", "title": null, "scale": {"domain": ["Ongoing remission", "Relapse"], "range": ["#6bbf4e", "#3d3f9a"]}, "legend": {"orient": "top-left", "symbolType": "stroke", "labelFontSize": 11, "offset": 8}}
              }
            }
          ]
        },
        {
          "title": {"text": "F", "anchor": "start", "frame": "bounds", "fontSize": 22, "fontWeight": "bold"},
          "vconcat": [
            {
              "title": {"text": ["Number of CD3 CAR+ T Cells in Blood on the Basis of Presence", "of Circulating B Cells Before Infusion"], "fontSize": 12, "offset": 8},
              "width": 420, "height": 297,
              "encoding": {
                "x": {"field": "d", "type": "quantitative", "scale": {"domain": [0, 28], "nice": false}, "title": "Time Since Infusion (days)", "axis": {"values": [5, 10, 15, 20, 25], "titleFontSize": 17, "titlePadding": 8}},
                "y": {"field": "v", "type": "quantitative", "scale": {"domain": [0, 1000, 10000, 20000, 30000], "range": [297, 65, 47, 23, 0]}, "title": "Number of CAR+ CD3 Cells per ul Blood", "axis": {"values": [0, 200, 400, 600, 800, 1000, 10000, 20000, 30000], "labelExpr": "datum.value == 0 ? '0' : datum.value == 200 ? '2×10²' : datum.value == 400 ? '4×10²' : datum.value == 600 ? '6×10²' : datum.value == 800 ? '8×10²' : datum.value == 1000 ? '1×10³' : datum.value == 10000 ? '1×10⁴' : datum.value == 20000 ? '2×10⁴' : '3×10⁴'", "titleFontSize": 17}}
              },
              "layer": [
                {
                  "data": {"name": "cellsF"},
                  "mark": {"type": "line", "strokeWidth": 1.3},
                  "encoding": {
                    "detail": {"field": "id"},
                    "color": {"field": "g", "type": "nominal", "title": null, "scale": {"domain": ["<1% B cells", ">1% B cells"], "range": ["#e09a2a", "black"]}, "legend": {"orient": "top-left", "symbolType": "stroke", "labelFontSize": 11, "offset": 8}}
                  }
                },
                {
                  "data": {"values": [{"d": 0.8, "v": 1000, "t": ["AUC comparison:", "P = .043"]}]},
                  "mark": {"type": "text", "align": "left", "baseline": "top", "fontSize": 11},
                  "encoding": {"text": {"field": "t"}}
                }
              ]
            }
          ]
        }
      ]
    }
  ]
}
